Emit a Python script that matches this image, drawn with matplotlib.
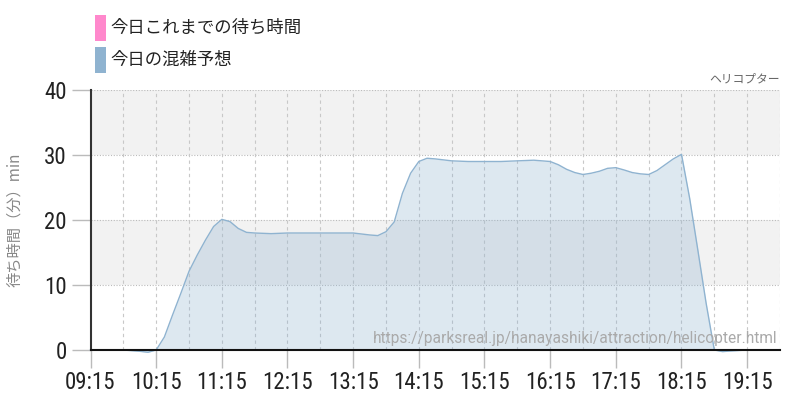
import matplotlib
matplotlib.use('Agg')
import matplotlib.pyplot as plt
from matplotlib.patches import Rectangle
import numpy as np

# readings of today's forecast (min), every 7.5 min where the curve bends
times = ['09:15:00', '09:30:00', '09:45:00', '10:00:00', '10:07:30', '10:15:00',
         '10:22:30', '10:30:00', '10:37:30', '10:45:00', '10:52:30', '11:00:00',
         '11:07:30', '11:15:00', '11:22:30', '11:30:00', '11:37:30', '11:45:00',
         '12:00:00', '12:15:00', '12:30:00', '12:45:00', '13:00:00', '13:15:00',
         '13:30:00', '13:37:30', '13:45:00', '13:52:30', '14:00:00', '14:07:30',
         '14:15:00', '14:22:30', '14:30:00', '14:45:00', '15:00:00', '15:15:00',
         '15:30:00', '15:45:00', '16:00:00', '16:15:00', '16:22:30', '16:30:00',
         '16:37:30', '16:45:00', '16:52:30', '17:00:00', '17:07:30', '17:15:00',
         '17:22:30', '17:30:00', '17:37:30', '17:45:00', '17:52:30', '18:00:00',
         '18:07:30', '18:15:00', '18:22:30', '18:30:00', '18:37:30', '18:45:00',
         '18:52:30', '19:00:00', '19:15:00', '19:30:00', '19:45:00']
forecast = [0, 0, 0, -0.2, -0.35, 0,
            2.0, 5.4, 8.7, 12.1, 14.6, 16.9,
            19.0, 20.1, 19.75, 18.7, 18.1, 18.0,
            17.9, 18.0, 18.0, 18.0, 18.0, 18.0,
            17.7, 17.6, 18.2, 19.7, 24.1, 27.2,
            29.0, 29.5, 29.4, 29.1, 29.0, 29.0,
            29.0, 29.1, 29.2, 29.0, 28.5, 27.8,
            27.3, 27.0, 27.2, 27.5, 27.95, 28.05,
            27.7, 27.3, 27.1, 27.0, 27.6, 28.5,
            29.4, 30.1, 23.3, 15.3, 7.2, 0,
            -0.25, -0.15, 0, 0, 0]
tick_labels = ['09:15', '10:15', '11:15', '12:15', '13:15', '14:15',
               '15:15', '16:15', '17:15', '18:15', '19:15']
legend_labels = ['今日これまでの待ち時間', '今日の混雑予想']
legend_colors = ['#ff88cc', '#8fb3d0']
title = 'ヘリコプター'
source = 'https://parksreal.jp/hanayashiki/attraction/helicopter.html'

jp = ['Noto Sans CJK JP', 'DejaVu Sans']
num = ['Roboto Condensed', 'Liberation Sans Narrow', 'Roboto', 'DejaVu Sans']


def to_h(s):
    parts = [int(p) for p in s.split(':')]
    while len(parts) < 3:
        parts.append(0)
    return parts[0] + parts[1] / 60.0 + parts[2] / 3600.0


x = np.array([to_h(t) for t in times])
y = np.array(forecast)

fig = plt.figure(figsize=(8, 4), dpi=100)
ax = fig.add_axes([90.5 / 800, 50 / 400, 689.5 / 800, 260 / 400])

x0, x1 = to_h('09:15'), to_h('19:45')
ax.set_xlim(x0, x1)
ax.set_ylim(0, 40)

# bands + grid
ax.axhspan(10, 20, color='#f2f2f2', zorder=0, lw=0)
ax.axhspan(30, 40, color='#f2f2f2', zorder=0, lw=0)
for v in [10, 20, 30, 40]:
    ax.axhline(v, color='#bbbbbb', lw=0.8, ls=(0, (1, 1.5)), zorder=1)
for v in np.arange(x0 + 0.5, x1 + 0.01, 0.5):
    ax.axvline(v, color='#c8c8c8', lw=0.8, ls=(0, (3, 3)), zorder=1)

ax.fill_between(x, y, 0, color='#8fb3d0', alpha=0.3, lw=0, zorder=2, clip_on=False)
ax.plot(x, y, color='#8fb3d0', lw=1.0, zorder=3, clip_on=False)

ax.set_xticks([to_h(t) for t in tick_labels])
ax.set_xticklabels(tick_labels, fontfamily=num, fontsize=16.5, color='#222222')
ax.set_yticks([0, 10, 20, 30, 40])
ax.set_yticklabels(['0', '10', '20', '30', '40'], fontfamily=num, fontsize=16.5, color='#222222')
ax.tick_params(axis='x', length=13, color='#bbbbbb', width=1, pad=2)
ax.tick_params(axis='y', length=14, color='#bbbbbb', width=1, pad=3)

for s in ['top', 'right']:
    ax.spines[s].set_visible(False)
ax.spines['left'].set_color('#333333')
ax.spines['left'].set_linewidth(1.5)
ax.spines['bottom'].set_color('#111111')
ax.spines['bottom'].set_linewidth(1.5)
ax.spines['bottom'].set_zorder(4)

ax.set_ylabel('待ち時間（分）min', fontfamily=jp, fontsize=11, color='#888888', labelpad=15)

# legend
for i, (lab, col) in enumerate(zip(legend_labels, legend_colors)):
    top = 15 + i * 32
    fig.patches.append(Rectangle((95 / 800, 1 - (top + 26) / 400), 11 / 800, 26 / 400,
                                 transform=fig.transFigure, color=col, lw=0))
    fig.text(110 / 800, 1 - (top + 13) / 400, lab, fontfamily=jp, fontsize=12.5,
             color='#222222', va='center', ha='left')

fig.text(780 / 800, 1 - 78.5 / 400, title, fontfamily=jp, fontsize=8.5,
         color='#666666', ha='right', va='center')
fig.text(778 / 800, 1 - 338 / 400, source, fontfamily=['Roboto', 'DejaVu Sans'],
         fontsize=11.2, color='#aaaaaa', ha='right', va='center')

fig.savefig('out.png', dpi=100)
